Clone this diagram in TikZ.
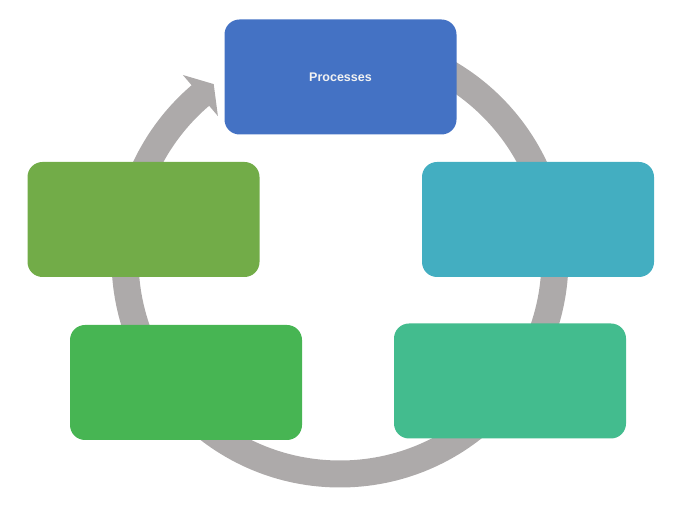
\documentclass[tikz,border=0pt]{standalone}
\usepackage{fontspec}
\setmainfont{Liberation Sans}
\definecolor{procblue}{HTML}{4472C4}
\definecolor{stageteal}{HTML}{43AEC1}
\definecolor{stagemint}{HTML}{43BC8E}
\definecolor{stagegreen}{HTML}{47B553}
\definecolor{stageolive}{HTML}{72AC48}
\definecolor{ringgray}{HTML}{ADAAAA}

\begin{document}
\begin{tikzpicture}[x=1pt, y=1pt, font=\bfseries\fontsize{12.5}{15}\selectfont,
 stage/.style={rounded corners=15pt,minimum width=232pt,minimum height=115pt,inner sep=0pt,text=white!95!black},
 ring/.style={draw=ringgray,line width=27pt}]
\useasboundingbox (0,0) rectangle (680,510);
\coordinate (hub) at (340,251);
% cycle ring with its head under the top box
\draw[ring] ([shift={(hub)}]90:215) arc[start angle=90,end angle=-230,radius=215];
\fill[ringgray] ([shift={(hub)}]130.5:242) -- ([shift={(hub)}]130.5:188) -- ([shift={(hub)}]-126.3,174.9) -- cycle;
% stages
\node[stage, fill=procblue] (proc) at (340.5,433) {Processes};
\node[stage, fill=stageteal] (stageE) at (538,290.5) {};
\node[stage, fill=stagemint] (stageSE) at (510,129) {};
\node[stage, fill=stagegreen] (stageSW) at (186,127.5) {};
\node[stage, fill=stageolive] (stageW) at (143.5,290.5) {};
\end{tikzpicture}
\end{document}
